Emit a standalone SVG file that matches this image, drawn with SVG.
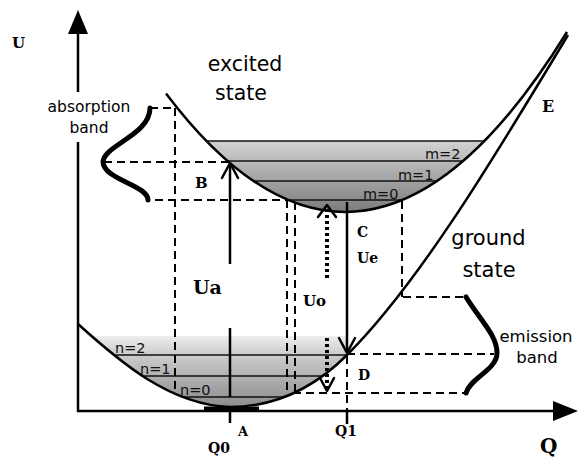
<svg xmlns="http://www.w3.org/2000/svg" width="578" height="457" viewBox="0 0 578 457">
<defs>
<style>
.curve{fill:none;stroke:#000;stroke-width:2.5}
.lvl{stroke:#111;stroke-width:1.6}
.dash{fill:none;stroke:#000;stroke-width:2;stroke-dasharray:8 5}
.dot{fill:none;stroke:#000;stroke-width:4;stroke-dasharray:3 3}
.solid{fill:none;stroke:#000;stroke-width:2.5}
.head{fill:none;stroke:#000;stroke-width:2.5;stroke-linecap:round;stroke-linejoin:round}
.band{fill:none;stroke:#000;stroke-width:5;stroke-linecap:round}
.sans{font-family:"DejaVu Sans",Verdana,sans-serif;fill:#000}
.serif{font-family:"DejaVu Serif","Liberation Serif",serif;font-weight:bold;fill:#000}
.lab{font-family:"DejaVu Sans",sans-serif;font-size:14.5px;fill:#111}
</style>
<linearGradient id="gx" gradientUnits="userSpaceOnUse" x1="0" y1="141" x2="0" y2="212">
<stop offset="0" stop-color="#d2d2d2"/><stop offset="1" stop-color="#7c7c7c"/>
</linearGradient>
<linearGradient id="gg" gradientUnits="userSpaceOnUse" x1="0" y1="334" x2="0" y2="408">
<stop offset="0" stop-color="#f2f2f2"/><stop offset="0.25" stop-color="#cfcfcf"/><stop offset="1" stop-color="#8a8a8a"/>
</linearGradient>
<clipPath id="cx"><rect x="150" y="141" width="400" height="80"/></clipPath>
<clipPath id="cg"><rect x="78" y="336" width="269" height="75"/></clipPath>
</defs>
<rect width="578" height="457" fill="#fff"/>

<g id="excited-state">
<path clip-path="url(#cx)" fill="url(#gx)" d="M166,93.4 Q255.5,212 345,212 Q456,212 567,32 Z"/>
<g class="lvl">
<line x1="206.5" y1="141" x2="484.5" y2="141"/>
<line x1="227.6" y1="161" x2="463.2" y2="161"/>
<line x1="253.5" y1="181" x2="437.2" y2="181"/>
<line x1="288" y1="200" x2="402.3" y2="200"/>
</g>
<text class="lab" x="425" y="159">m=2</text>
<text class="lab" x="398" y="180">m=1</text>
<text class="lab" x="363" y="199">m=0</text>
<path class="curve" d="M166,93.4 Q255.5,212 345,212 Q456,212 567,32"/>
<text class="sans" x="245" y="71" font-size="20.5" text-anchor="middle">excited</text>
<text class="sans" x="241" y="100" font-size="20.5" text-anchor="middle">state</text>
</g>

<g id="ground-state">
<path clip-path="url(#cg)" fill="url(#gg)" d="M78,324 C120,362 170,405 230,407 C275,407 314,388 347,355 L347,324 Z"/>
<g class="lvl">
<line x1="113" y1="355" x2="347" y2="355"/>
<line x1="142" y1="376" x2="322" y2="376"/>
<line x1="182" y1="397" x2="283" y2="397"/>
</g>
<text class="lab" x="115" y="353">n=2</text>
<text class="lab" x="140" y="374">n=1</text>
<text class="lab" x="180" y="395">n=0</text>
<path class="curve" d="M78,324 C120,362 170,405 230,407 C275,407 314,388 347,355 C417,285 488,168 568,35"/>
<line x1="204" y1="408.5" x2="259" y2="408.5" stroke="#000" stroke-width="4"/>
<text class="sans" x="488.5" y="245" font-size="21" text-anchor="middle">ground</text>
<text class="sans" x="489" y="277" font-size="21" text-anchor="middle">state</text>
</g>

<g id="axes">
<line class="solid" x1="78" y1="33" x2="78" y2="92"/>
<line class="solid" x1="78" y1="142" x2="78" y2="412"/>
<line class="solid" x1="77" y1="411" x2="555" y2="411"/>
<polygon points="78,10 68,34 88,34" fill="#000"/>
<polygon points="578,411 553,401 553,421" fill="#000"/>
<line class="solid" x1="230" y1="411" x2="230" y2="423" stroke-width="2"/>
<line class="solid" x1="347" y1="411" x2="347" y2="424" stroke-width="2"/>
<text class="serif" x="12" y="48" font-size="15">U</text>
<text class="serif" x="540" y="453" font-size="20" font-weight="normal">Q</text>
<text class="serif" x="238" y="436" font-size="13">A</text>
<text class="serif" x="208" y="453" font-size="14">Q0</text>
<text class="serif" x="335" y="436" font-size="14">Q1</text>
</g>

<g id="connectors">
<path class="dash" d="M150,108 H176 M175,108 V395 M104,162 H230 M155,200 H288 M287,200 V395 M295,202 V392 M402,201 V297 M403,297 H466 M347,354 H494 M293,393 H466 M347,356 V411"/>
<line class="solid" x1="230" y1="164" x2="230" y2="264"/>
<line class="solid" x1="230" y1="328" x2="230" y2="397"/>
<path class="head" d="M222,178 L230,163 L238,178"/>
<line class="solid" x1="347" y1="202" x2="347" y2="351"/>
<path class="head" d="M339,338 L347,353 L355,338"/>
<line class="dot" x1="327" y1="209" x2="327" y2="281"/>
<path class="head" d="M318,217 L327,205 L336,217" stroke-width="3"/>
<line class="dot" x1="327" y1="338" x2="327" y2="388"/>
<path class="head" d="M320,378 L327,391 L334,378" stroke-width="3"/>
</g>

<g id="absorption-band">
<path class="band" d="M150,108 C150,135 104,145 103,162 C104,180 148,185 148,200"/>
<text class="sans" x="89" y="112" font-size="15.5" text-anchor="middle">absorption</text>
<text class="sans" x="89" y="133" font-size="15.5" text-anchor="middle">band</text>
</g>

<g id="emission-band">
<path class="band" d="M466,297 C480,320 497,335 497,353 C497,370 470,378 466,393"/>
<text class="sans" x="536" y="342" font-size="16.5" text-anchor="middle">emission</text>
<text class="sans" x="537" y="363" font-size="16.5" text-anchor="middle">band</text>
</g>

<g id="labels">
<text class="serif" x="195" y="188" font-size="15">B</text>
<text class="serif" x="357" y="237" font-size="14">C</text>
<text class="serif" x="357" y="263" font-size="14">Ue</text>
<text class="serif" x="193" y="294" font-size="19">Ua</text>
<text class="serif" x="303" y="306" font-size="15">Uo</text>
<text class="serif" x="358" y="380" font-size="14">D</text>
<text class="serif" x="542" y="112" font-size="16">E</text>
</g>
</svg>
